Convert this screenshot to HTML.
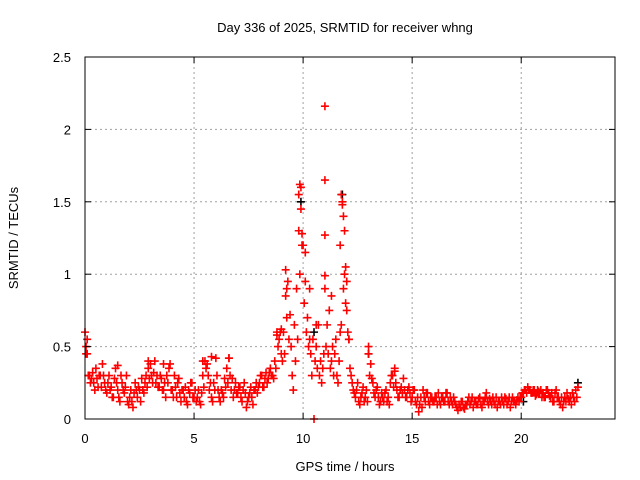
<!DOCTYPE html>
<html><head><meta charset="utf-8"><style>
body{margin:0;background:#fff;}
svg{display:block;font-family:"Liberation Sans",sans-serif;}
</style></head><body>
<svg id="chart" width="640" height="480">
<text x="345" y="32" text-anchor="middle" font-size="13">Day 336 of 2025, SRMTID for receiver whng</text>
<text x="345" y="471" text-anchor="middle" font-size="13">GPS time / hours</text>
<text transform="translate(18,238) rotate(-90)" text-anchor="middle" font-size="13">SRMTID / TECUs</text>
<g id="grid"></g><g id="marks"></g><g id="axes"></g>
</svg>
<script>
const xTicks=[0,5,10,15,20];
const yTicks=[0,0.5,1,1.5,2,2.5];
const yTickLabels=["0","0.5","1","1.5","2","2.5"];
const step=0.1;
const redValues=[
.6,.55,.3,.28,.25,.35,.22,.3,.38,.25,
.18,.3,.22,.15,.35,.2,.12,.25,.18,.3,
.1,.2,.08,.25,.15,.2,.28,.18,.3,.35,
.38,.25,.4,.3,.22,.28,.2,.15,.25,.38,
.2,.3,.15,.28,.12,.2,.22,.1,.18,.25,
.15,.12,.2,.1,.3,.4,.38,.2,.15,.25,
.42,.2,.12,.18,.28,.35,.42,.2,.15,.25,
.18,.22,.12,.25,.08,.15,.22,.1,.2,.18,
.25,.3,.22,.32,.28,.35,.3,.4,.58,.55,
.45,.6,.85,.95,.72,.3,.65,.9,1.3,1.6,
1.2,.95,.7,.55,.3,.0,.5,.65,.4,.35,
.9,.65,.75,.4,.3,.55,.25,.6,1.5,1.0,
.75,.55,.3,.2,.15,.25,.1,.18,.12,.2,
.45,.38,.25,.15,.22,.1,.18,.12,.2,.15,
.25,.3,.35,.2,.15,.22,.28,.15,.2,.18,
.15,.2,.1,.05,.15,.2,.12,.18,.1,.15,
.12,.15,.18,.1,.15,.12,.18,.1,.12,.15,
.1,.06,.08,.12,.07,.1,.15,.12,.08,.12,
.1,.15,.08,.12,.18,.1,.12,.15,.1,.08,
.12,.15,.1,.14,.12,.08,.15,.12,.13,.12,
.15,.18,.2,.22,.2,.18,.2,.17,.19,.2,
.18,.15,.2,.16,.18,.12,.2,.15,.1,.08,
.15,.18,.12,.1,.15,.2,.22];
const redValuesB=[
.45,.3,.25,.32,.2,.28,.3,.22,.3,.2,
.25,.2,.15,.28,.25,.15,.3,.2,.22,.12,
.15,.12,.18,.2,.22,.12,.2,.25,.22,.28,
.3,.32,.25,.22,.3,.2,.25,.3,.35,.2,
.15,.22,.25,.18,.2,.15,.12,.2,.25,.15,
.2,.15,.12,.18,.22,.35,.3,.25,.12,.2,
.3,.15,.2,.15,.22,.25,.3,.28,.2,.18,
.22,.15,.2,.18,.12,.18,.15,.2,.25,.22,
.3,.22,.28,.25,.32,.3,.28,.35,.5,.6,
.4,.45,.7,.55,.5,.2,.4,.55,1.0,1.2,
.8,.6,.5,.45,.55,.4,.35,.3,.25,.45,
.5,.45,.35,.5,.45,.3,.4,.65,.9,.8,
.6,.35,.25,.18,.2,.12,.15,.22,.15,.12,
.3,.28,.18,.2,.15,.12,.15,.18,.12,.1,
.3,.22,.25,.15,.2,.18,.2,.15,.22,.12,
.2,.12,.15,.1,.08,.15,.18,.12,.15,.12,
.15,.1,.12,.15,.12,.18,.12,.15,.1,.12,
.08,.1,.12,.08,.1,.12,.1,.15,.12,.1,
.14,.1,.12,.15,.12,.14,.1,.12,.15,.12,
.1,.12,.15,.1,.15,.12,.12,.1,.15,.15,
.18,.2,.18,.2,.18,.2,.16,.2,.18,.15,
.15,.2,.18,.15,.12,.18,.15,.12,.15,.12,
.12,.14,.15,.18,.12,.15];
const extraTimes=[9.2,9.25,9.8,9.85,9.9,9.95,10.1,11.0,11.0,11.0,11.0,11.75,11.8,11.85,11.9,11.95,11.7,12.0,8.8,9.0,10.3,10.6,11.3,0.05,0.1,1.5,2.9,3.6,5.4,5.8,6.6,13.0,14.2,12.1];
const extraValues=[1.03,0.9,1.55,1.62,1.45,1.28,1.15,2.16,1.65,1.27,0.99,1.55,1.48,1.4,1.3,1.05,1.2,0.95,0.6,0.62,0.9,0.65,0.85,0.5,0.45,0.37,0.4,0.38,0.4,0.43,0.42,0.5,0.33,0.55];
const blackTimes=[9.9,11.8,10.5,13.0,20.1,22.6];
const blackValues=[1.5,1.55,0.6,0.45,0.12,0.25];
const L=85,R=615,T=57,B=419,XMAX=24.3,YMAX=2.5;
const X=v=>L+v/XMAX*(R-L), Y=v=>B-v/YMAX*(B-T);
const NS="http://www.w3.org/2000/svg";
function mk(tag,attrs,parent){const e=document.createElementNS(NS,tag);for(const k in attrs)e.setAttribute(k,attrs[k]);parent.appendChild(e);return e;}
const grid=document.getElementById('grid'),marks=document.getElementById('marks'),axes=document.getElementById('axes');
xTicks.forEach((t,i)=>{
 if(t>0){const g=mk('line',{x1:X(t),x2:X(t),y1:T,y2:B,stroke:'#a0a0a0','stroke-dasharray':'2,3'},grid);
 
 }
 mk('line',{x1:X(t),x2:X(t),y1:B,y2:B-6,stroke:'#000'},axes);
 mk('line',{x1:X(t),x2:X(t),y1:T,y2:T+6,stroke:'#000'},axes);
 const tx=mk('text',{x:X(t),y:B+24,'text-anchor':'middle','font-size':13},axes);tx.textContent=String(t);
 
 
});
yTicks.forEach((t,i)=>{
 if(t>0&&t<YMAX){const g=mk('line',{x1:L,x2:R,y1:Y(t),y2:Y(t),stroke:'#a0a0a0','stroke-dasharray':'2,3'},grid);
 
 }
 mk('line',{x1:L,x2:L+6,y1:Y(t),y2:Y(t),stroke:'#000'},axes);
 mk('line',{x1:R,x2:R-6,y1:Y(t),y2:Y(t),stroke:'#000'},axes);
 const tx=mk('text',{x:L-14,y:Y(t)+5,'text-anchor':'end','font-size':13},axes);tx.textContent=yTickLabels[i];
 
 
});
const fr=mk('rect',{x:L,y:T,width:R-L,height:B-T,fill:'none',stroke:'#000'},axes);


function plus(x,y,c){const s=4;const p=mk('path',{d:`M${x-s},${y}H${x+s}M${x},${y-s}V${y+s}`,stroke:c,'stroke-width':1.6,fill:'none'},marks);return p;}
blackTimes.forEach((t,i)=>{const p=plus(X(t),Y(blackValues[i]),'#000');
 
 });
redValues.forEach((v,i)=>{const p=plus(X(i*step),Y(v),'#ff0000');
 
 });
redValuesB.forEach((v,i)=>{const p=plus(X(i*step+step/2),Y(v),'#ff0000');
 
 });
extraTimes.forEach((t,i)=>{const p=plus(X(t),Y(extraValues[i]),'#ff0000');
 
 });
</script>
</body></html>
